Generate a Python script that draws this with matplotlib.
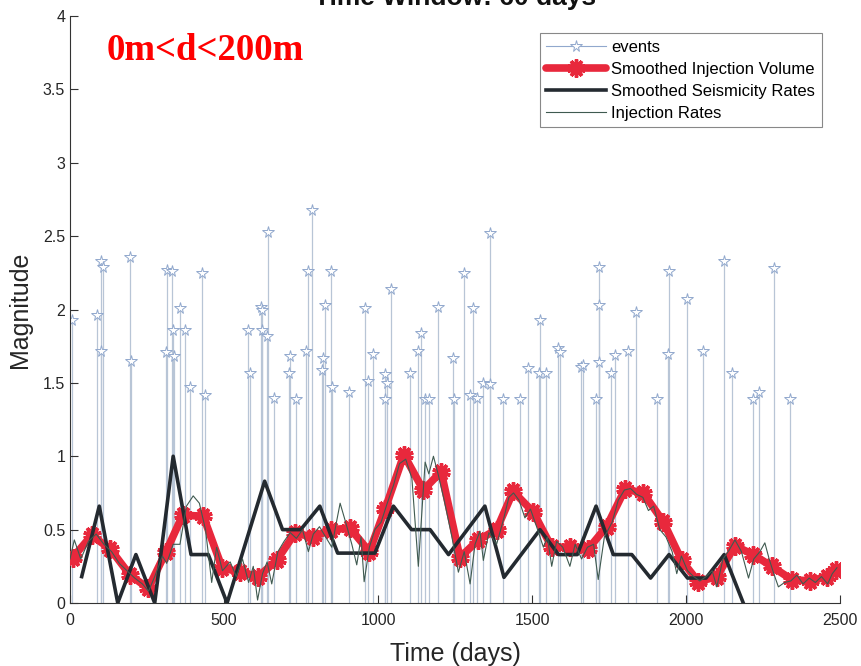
import matplotlib
matplotlib.use("Agg")
import matplotlib.pyplot as plt

plt.rcParams['font.family'] = ['Liberation Sans', 'DejaVu Sans']

# ---- events (time in days, magnitude) ----
event_t = [5, 87, 101, 108, 101, 196, 198, 314, 331, 311, 338, 335, 357, 374, 388, 430, 438,
           579, 583, 621, 623, 622, 638, 643, 663, 713, 711, 733, 766, 774, 785, 820, 819, 828,
           849, 852, 905, 957, 966, 983, 1024, 1030, 1024, 1041, 1105, 1129, 1138, 1152, 1164,
           1196, 1245, 1247, 1279, 1298, 1308, 1321, 1342, 1363, 1364, 1406, 1461, 1488, 1525,
           1524, 1544, 1584, 1591, 1658, 1667, 1719, 1719, 1719, 1707, 1756, 1768, 1813, 1837,
           1906, 1940, 1946, 2004, 2055, 2122, 2149, 2216, 2238, 2285, 2339]
event_m = [1.93, 1.96, 2.33, 2.29, 1.72, 2.36, 1.65, 2.27, 2.26, 1.71, 1.68, 1.86, 2.01, 1.86, 1.47, 2.25, 1.42,
           1.86, 1.57, 2.02, 2.00, 1.86, 1.82, 2.53, 1.40, 1.68, 1.57, 1.39, 1.72, 2.26, 2.68, 1.67, 1.59, 2.03,
           2.26, 1.47, 1.44, 2.01, 1.51, 1.70, 1.56, 1.50, 1.39, 2.14, 1.57, 1.72, 1.84, 1.39, 1.39,
           2.02, 1.67, 1.39, 2.25, 1.42, 2.01, 1.40, 1.50, 2.52, 1.49, 1.39, 1.39, 1.60, 1.93,
           1.57, 1.57, 1.74, 1.71, 1.61, 1.62, 2.29, 2.03, 1.64, 1.39, 1.57, 1.69, 1.72, 1.98,
           1.39, 1.70, 2.26, 2.07, 1.72, 2.33, 1.57, 1.39, 1.44, 2.28, 1.39]

# ---- smoothed injection volume ----
vol_t = [9, 70, 130, 195, 254, 312, 366, 433, 494, 552, 611, 671, 730, 790, 849, 909, 972, 1023,
         1084, 1147, 1205, 1266, 1326, 1385, 1439, 1504, 1564, 1623, 1683, 1742, 1802, 1861, 1926,
         1986, 2040, 2100, 2159, 2218, 2278, 2343, 2403, 2457, 2486]
vol_v = [0.31, 0.46, 0.37, 0.19, 0.10, 0.35, 0.60, 0.59, 0.24, 0.21, 0.18, 0.29, 0.475, 0.45, 0.50,
         0.51, 0.35, 0.64, 1.01, 0.77, 0.895, 0.31, 0.43, 0.50, 0.76, 0.62, 0.38, 0.38, 0.37, 0.52,
         0.775, 0.75, 0.555, 0.29, 0.145, 0.18, 0.39, 0.33, 0.25, 0.16, 0.15, 0.18, 0.225]

# ---- smoothed seismicity rates ----
seis_t = [38, 95, 155, 214, 275, 335, 393, 449, 510, 632, 690, 749, 811, 869, 930, 990, 1050, 1109,
          1169, 1229, 1347, 1409, 1526, 1586, 1647, 1708, 1764, 1824, 1885, 1945, 2005, 2065, 2124, 2186]
seis_v = [0.18, 0.66, 0.0, 0.33, 0.0, 1.0, 0.33, 0.33, 0.0, 0.83, 0.50, 0.50, 0.66, 0.34, 0.34, 0.34,
          0.66, 0.50, 0.50, 0.33, 0.66, 0.175, 0.50, 0.33, 0.33, 0.66, 0.33, 0.33, 0.17, 0.33, 0.17,
          0.17, 0.33, 0.0]

# ---- injection rates ----
inj_t = [0, 14, 35, 60, 85, 110, 135, 160, 185, 210, 235, 255, 275, 300, 314, 335, 357, 378, 400, 420,
         440, 460, 476, 495, 520, 540, 560, 580, 595, 609, 625, 640, 655, 675, 695, 715, 735, 755, 774,
         790, 810, 830, 850, 865, 877, 895, 915, 931, 945, 955, 972, 990, 1010, 1030, 1050, 1070, 1090,
         1110, 1131, 1145, 1153, 1165, 1180, 1195, 1215, 1240, 1261, 1280, 1299, 1315, 1331, 1342, 1360,
         1385, 1405, 1425, 1440, 1458, 1477, 1495, 1515, 1537, 1550, 1564, 1580, 1600, 1623, 1640, 1661,
         1680, 1700, 1715, 1735, 1760, 1780, 1800, 1820, 1840, 1860, 1878, 1895, 1915, 1935, 1955, 1970,
         1985, 2005, 2025, 2045, 2065, 2085, 2100, 2120, 2140, 2159, 2180, 2203, 2220, 2240, 2256, 2270,
         2285, 2300, 2320, 2340, 2360, 2380, 2400, 2420, 2440, 2460, 2475, 2490]
inj_v = [0.30, 0.43, 0.30, 0.42, 0.47, 0.40, 0.35, 0.27, 0.22, 0.17, 0.13, 0.08, 0.18, 0.32, 0.27, 0.40,
         0.40, 0.66, 0.73, 0.68, 0.50, 0.14, 0.38, 0.22, 0.28, 0.18, 0.30, 0.14, 0.25, 0.02, 0.20, 0.28,
         0.13, 0.35, 0.42, 0.48, 0.44, 0.50, 0.35, 0.47, 0.52, 0.45, 0.38, 0.55, 0.68, 0.55, 0.40, 0.26,
         0.45, 0.145, 0.38, 0.50, 0.55, 0.68, 0.80, 0.95, 0.98, 0.85, 0.25, 0.70, 0.96, 0.88, 1.00, 0.88,
         0.70, 0.45, 0.21, 0.35, 0.13, 0.40, 0.49, 0.29, 0.48, 0.40, 0.55, 0.72, 0.75, 0.70, 0.58, 0.64,
         0.52, 0.38, 0.45, 0.25, 0.42, 0.38, 0.25, 0.40, 0.30, 0.38, 0.40, 0.16, 0.45, 0.55, 0.70, 0.77,
         0.78, 0.74, 0.72, 0.63, 0.66, 0.50, 0.45, 0.35, 0.20, 0.32, 0.22, 0.18, 0.15, 0.18, 0.22, 0.11,
         0.30, 0.36, 0.43, 0.35, 0.17, 0.30, 0.35, 0.41, 0.30, 0.20, 0.11, 0.14, 0.15, 0.19, 0.13, 0.17,
         0.14, 0.18, 0.13, 0.20, 0.24]

x_ticks = [0, 500, 1000, 1500, 2000, 2500]
y_ticks = [0, 0.5, 1, 1.5, 2, 2.5, 3, 3.5, 4]
y_tick_labels = ['0', '0.5', '1', '1.5', '2', '2.5', '3', '3.5', '4']

fig = plt.figure(figsize=(8.61, 6.66), dpi=100)
ax = fig.add_axes([70/861, 1-603/666, 770/861, 587/666])

stem_col = '#b8c5d6'
star_col = '#91a8cd'
ax.vlines(event_t, 0, event_m, colors=stem_col, linewidth=0.9, zorder=1)
ax.plot(event_t, event_m, linestyle='none', marker='*', markersize=8.5,
        markerfacecolor='white', markeredgecolor=star_col, markeredgewidth=0.7, zorder=2)
# legend proxy for events
ev_handle, = ax.plot([], [], color=star_col, linewidth=0.8, marker='*', markersize=8.5,
                     markerfacecolor='white', markeredgecolor=star_col, markeredgewidth=0.7)

red_handle, = ax.plot(vol_t, vol_v, color='#e8283c', linewidth=5.5, marker=(10, 2, 0),
                      markersize=13, markeredgewidth=2.5, markeredgecolor='#e8283c', zorder=3,
                      solid_capstyle='round', solid_joinstyle='round')
blk_handle, = ax.plot(seis_t, seis_v, color='#242a30', linewidth=2.6, zorder=4)
inj_handle, = ax.plot(inj_t, inj_v, color='#3f5a50', linewidth=0.8, zorder=5)

ax.set_xlim(0, 2500)
ax.set_ylim(0, 4)
ax.set_xticks(x_ticks)
ax.set_yticks(y_ticks)
ax.set_yticklabels(y_tick_labels)
for s in ['top', 'right']:
    ax.spines[s].set_visible(False)
for s in ['left', 'bottom']:
    ax.spines[s].set_color('#333333')
    ax.spines[s].set_linewidth(0.8)
ax.tick_params(direction='in', length=6, width=0.8, colors='#333333', labelsize=11.5,
               labelcolor='#262626')
ax.tick_params(axis='x', pad=7)

ax.set_xlabel('Time (days)', fontsize=18, color='#262626', labelpad=10)
ax.set_ylabel('Magnitude', fontsize=18, color='#262626', labelpad=8)
ax.set_title('Time Window: 60 days', fontsize=19, fontweight='bold', color='#111111', pad=8)

ax.text(120, 3.70, '0m<d<200m', color='#ff0000', fontsize=26.5, fontweight='bold',
        family=['Liberation Serif', 'DejaVu Serif'], va='baseline', ha='left')

leg = ax.legend([ev_handle, red_handle, blk_handle, inj_handle],
                ['events', 'Smoothed Injection Volume', 'Smoothed Seismicity Rates', 'Injection Rates'],
                loc='upper right', bbox_to_anchor=(0.9766, 0.971), borderaxespad=0,
                fontsize=12, handlelength=3.6, handletextpad=0.3, labelspacing=0.42,
                fancybox=False, framealpha=1, edgecolor='#888888', borderpad=0.4)
leg.get_frame().set_linewidth(0.8)

fig.savefig('out.png', dpi=100)
